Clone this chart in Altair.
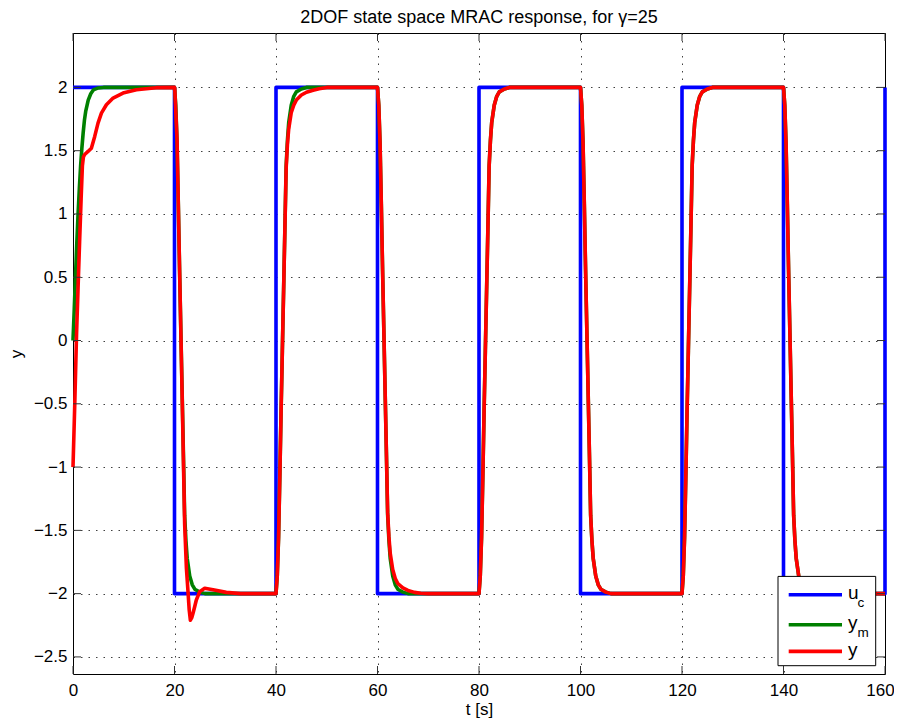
import altair as alt
import pandas as pd

FONT = "Liberation Sans"

# ---- data ----
T_SWITCH = [0, 20, 40, 60, 80, 100, 120, 140, 160]
UC_LEVEL = [2, -2, 2, -2, 2, -2, 2, -2, 2]

X_TICKS = [0, 20, 40, 60, 80, 100, 120, 140, 160]
Y_TICKS = [-2.5, -2, -1.5, -1, -0.5, 0, 0.5, 1, 1.5, 2]

# y_m, first rise from 0 at t=0
YM0_T = [0, 0.25, 0.5, 0.75, 1.0, 1.25, 1.5, 1.75, 2.0, 2.25, 2.5, 3.0, 3.5, 4.0, 5.0, 6.0]
YM0_V = [0, 0.25, 0.52, 0.77, 1.0, 1.2, 1.38, 1.52, 1.64, 1.74, 1.81, 1.9, 1.95, 1.98, 1.996, 2.0]

# y_m after each later switch (time since switch)
TAU = [0, 0.25, 0.5, 0.75, 1.0, 1.25, 1.5, 1.75, 2.0, 2.25, 2.5, 3.0, 3.5, 4.0, 5.0, 6.0]
YM_FALL = [2, 1.86, 1.56, 1.08, 0.56, 0.08, -0.4, -0.88, -1.38, -1.58, -1.72, -1.86, -1.93, -1.965, -1.988, -2]
YM_RISE = [-2, -1.86, -1.56, -1.08, -0.56, -0.08, 0.4, 0.88, 1.38, 1.58, 1.72, 1.86, 1.93, 1.965, 1.988, 2]

# y (plant output), adaptation transients
Y0_T = [0, 0.35, 0.7, 1.0, 1.3, 1.6, 1.85, 2.05, 2.3, 2.96, 3.62, 4.28, 4.93, 5.6, 6.58, 7.9, 9.85, 12.5, 16.4, 20]
Y0_V = [-1, -0.5, 0.05, 0.42, 0.78, 1.12, 1.38, 1.45, 1.47, 1.494, 1.52, 1.613, 1.718, 1.797, 1.863, 1.916, 1.955, 1.982, 1.998, 2]

Y20_T = [20, 20.05, 20.5, 21.0, 21.5, 22.0, 22.35, 22.67, 22.9, 23.13, 23.4, 23.65, 24.0, 24.3, 24.97, 25.95, 27.6, 30.2, 33]
Y20_V = [2, 1.99, 1.59, 0.56, -0.42, -1.45, -1.8, -1.99, -2.13, -2.21, -2.19, -2.155, -2.1, -2.05, -1.984, -1.957, -1.97, -1.99, -2]

Y_LATE_TAU = [0, 0.25, 0.5, 0.75, 1.0, 1.25, 1.5, 1.75, 2.0, 2.25, 2.5, 3.0, 3.5, 4.0, 5.0, 6.0, 7.3, 8.5, 10]
Y40_V = [-2, -1.86, -1.56, -1.08, -0.56, -0.08, 0.4, 0.88, 1.36, 1.55, 1.67, 1.8, 1.86, 1.9, 1.94, 1.962, 1.978, 1.99, 2]
Y60_V = [2, 1.86, 1.56, 1.08, 0.56, 0.08, -0.4, -0.88, -1.36, -1.55, -1.68, -1.81, -1.88, -1.92, -1.955, -1.975, -1.99, -1.997, -2]

# ---- build tables ----
uc_rows = []
for i in range(8):
    uc_rows.append((T_SWITCH[i], UC_LEVEL[i]))
    uc_rows.append((T_SWITCH[i + 1], UC_LEVEL[i]))
uc_rows.append((T_SWITCH[8], UC_LEVEL[8]))

ym_rows = list(zip(YM0_T, YM0_V))
for i in range(1, 8):
    T = T_SWITCH[i]
    vals = YM_FALL if UC_LEVEL[i] < 0 else YM_RISE
    ym_rows += [(T + d, v) for d, v in zip(TAU, vals)]
    ym_rows.append((T_SWITCH[i + 1], vals[-1]))

y_rows = list(zip(Y0_T, Y0_V))
y_rows += list(zip(Y20_T, Y20_V))
y_rows.append((40, -2))
y_rows += [(40 + d, v) for d, v in zip(Y_LATE_TAU, Y40_V)]
y_rows.append((60, 2))
y_rows += [(60 + d, v) for d, v in zip(Y_LATE_TAU, Y60_V)]
y_rows.append((80, -2))
for i in range(4, 8):
    T = T_SWITCH[i]
    vals = YM_FALL if UC_LEVEL[i] < 0 else YM_RISE
    y_rows += [(T + d, v) for d, v in zip(TAU, vals)]
    y_rows.append((T_SWITCH[i + 1], vals[-1]))


def frame(rows):
    return pd.DataFrame({"t": [r[0] for r in rows], "v": [r[1] for r in rows], "i": range(len(rows))})


W, H = 812, 641
XD = [0, 160]
YD = [-2.635, 2.43]

xs = alt.Scale(domain=XD, nice=False, zero=False)
ys = alt.Scale(domain=YD, nice=False, zero=False)

x_axis = alt.Axis(values=X_TICKS, grid=True, ticks=False, domain=False, labelFlush=False,
                  labelOffset=alt.condition("datum.value == 160", alt.value(-5), alt.value(0)),
                  labelFont=FONT, labelFontSize=17, labelColor="black", labelPadding=8,
                  title="t [s]", titleFont=FONT, titleFontSize=17, titleFontWeight="normal",
                  titleColor="black", titleBaseline="alphabetic", titleY=40, titleX=W / 2,
                  gridDash=[1.5, 6], gridColor="#000", gridOpacity=0.75, gridWidth=1)
y_axis = alt.Axis(values=Y_TICKS, grid=True, ticks=False, domain=False, format="~g", labelFlush=False,
                  labelFont=FONT, labelFontSize=17, labelColor="black", labelPadding=6,
                  title="y", titleFont=FONT, titleFontSize=17, titleFontWeight="normal",
                  titleColor="black", titleX=-48, titleY=H / 2,
                  gridDash=[1.5, 6], gridColor="#000", gridOpacity=0.75, gridWidth=1)

XE = alt.X("t:Q", scale=xs, axis=x_axis)
YE = alt.Y("v:Q", scale=ys, axis=y_axis)


def line(rows, color):
    return alt.Chart(frame(rows)).mark_line(color=color, strokeWidth=3.6, strokeJoin="round").encode(
        x=XE, y=YE, order="i:Q")


l_uc = line(uc_rows, "#0000ff")
l_ym = line(ym_rows, "#008000")
l_y = line(y_rows, "#ff0000")

xt = pd.DataFrame({"t": X_TICKS})
yt = pd.DataFrame({"v": Y_TICKS})
TK = 8
tick_style = dict(color="#333", strokeWidth=1)
ticks = [
    alt.Chart(xt).mark_rule(**tick_style).encode(x=XE, y=alt.value(H), y2=alt.value(H - TK)),
    alt.Chart(xt).mark_rule(**tick_style).encode(x=XE, y=alt.value(0), y2=alt.value(TK)),
    alt.Chart(yt).mark_rule(**tick_style).encode(y=YE, x=alt.value(0), x2=alt.value(TK)),
    alt.Chart(yt).mark_rule(**tick_style).encode(y=YE, x=alt.value(W), x2=alt.value(W - TK)),
]

# ---- legend (drawn by hand so the subscripts can be real text) ----
LEG_NAMES = ["u", "y", "y"]
LEG_SUBS = ["c", "m", ""]
LEG_COLORS = ["#0000ff", "#008000", "#ff0000"]
LX0, LX1, LY0, LY1 = 705, 802.7, 543.4, 632.7
ROW_Y = [561.7, 591.7, 618.4]

one = pd.DataFrame({"a": [0]})
legend = [
    alt.Chart(one).mark_rect(fill="white", stroke="black", strokeWidth=1).encode(
        x=alt.value(LX0), x2=alt.value(LX1), y=alt.value(LY0), y2=alt.value(LY1))
]
for k in range(3):
    legend.append(alt.Chart(one).mark_rule(color=LEG_COLORS[k], strokeWidth=3.6).encode(
        x=alt.value(715.7), x2=alt.value(769), y=alt.value(ROW_Y[k])))
    legend.append(alt.Chart(one).mark_text(
        text=LEG_NAMES[k], font=FONT, fontSize=19, align="left", baseline="alphabetic", color="black").encode(
        x=alt.value(775), y=alt.value(ROW_Y[k] + 4.5)))
    if LEG_SUBS[k]:
        legend.append(alt.Chart(one).mark_text(
            text=LEG_SUBS[k], font=FONT, fontSize=13.5, align="left", baseline="alphabetic", color="black").encode(
            x=alt.value(784.5), y=alt.value(ROW_Y[k] + 12.5)))

chart = alt.layer(l_uc, l_ym, l_y, *ticks, *legend).properties(
    width=W, height=H,
    title=alt.TitleParams("2DOF state space MRAC response, for γ=25", font=FONT, fontSize=18,
                          fontWeight="normal", color="black", anchor="middle", offset=6),
    autosize=alt.AutoSizeParams(type="none"),
    padding={"left": 65, "top": 25, "right": 9, "bottom": 46},
    background="white",
).configure_view(stroke="black", strokeWidth=1)

chart.save("out.html", embed_options={"renderer": "svg", "actions": False})
